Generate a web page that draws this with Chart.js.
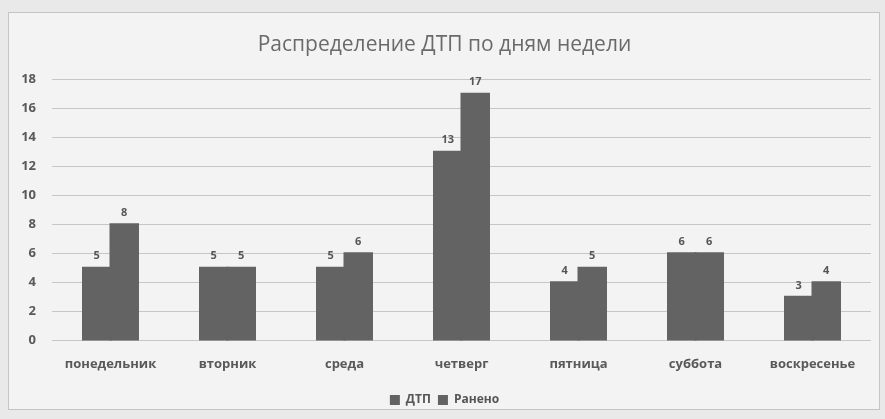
<!DOCTYPE html>
<html>
<head>
<meta charset="utf-8">
<script src="https://cdn.jsdelivr.net/npm/chart.js@4.4.0/dist/chart.umd.min.js"></script>
<style>
    body { margin: 0; background: #e9e9e9; }
    #frame {
        position: absolute; left: 8px; top: 12px; width: 870px; height: 396px;
        background: #f3f3f3; border: 1px solid #c4c4c4;
    }
    #wrap { position: absolute; left: 0; top: 0; width: 885px; height: 419px; }
</style>
</head>
<body>
<div id="frame"></div>
<div id="wrap"><canvas id="myChart" width="885" height="419"></canvas></div>
<script>
// dias de la semana y valores
const dias = ['понедельник', 'вторник', 'среда', 'четверг', 'пятница', 'суббота', 'воскресенье'];
const dtp = [5, 5, 5, 13, 4, 6, 3];
const raneno = [8, 5, 6, 17, 5, 6, 4];
const ticksY = [0, 2, 4, 6, 8, 10, 12, 14, 16, 18];

// etiquetas encima de cada barra
const etiquetas = {
    id: 'etiquetas',
    afterDatasetsDraw(chart) {
        const ctx = chart.ctx;
        ctx.save();
        ctx.font = 'bold 11px "Open Sans"';
        ctx.fillStyle = '#555';
        ctx.textAlign = 'center';
        ctx.textBaseline = 'bottom';
        chart.data.datasets.forEach(function (ds, i) {
            chart.getDatasetMeta(i).data.forEach(function (bar, j) {
                ctx.fillText(ds.data[j], bar.x, bar.y - 6);
            });
        });
        ctx.restore();
    }
};

new Chart(document.getElementById('myChart'), {
    type: 'bar',
    data: {
        labels: dias,
        datasets: [
            { label: 'ДТП', data: dtp, backgroundColor: '#636363' },
            { label: 'Ранено', data: raneno, backgroundColor: '#636363' }
        ]
    },
    options: {
        responsive: false,
        animation: false,
        layout: { padding: { left: 18, right: 14, top: 10, bottom: 3 } },
        datasets: { bar: { categoryPercentage: 0.47, barPercentage: 1.0, inflateAmount: 1 } },
        plugins: {
            title: {
                display: true,
                text: 'Распределение ДТП по дням недели',
                color: '#6a6a6a',
                font: { family: '"Open Sans"', size: 21, weight: 'normal' },
                padding: { top: 22, bottom: 22 }
            },
            legend: {
                position: 'bottom',
                labels: {
                    color: '#555',
                    font: { family: '"Open Sans"', size: 12, weight: 'bold' },
                    boxWidth: 10, boxHeight: 10, padding: 7
                }
            },
            tooltip: { enabled: false }
        },
        scales: {
            x: {
                afterFit: function (axis) { axis.height += 7; },
                grid: { display: false },
                border: { display: false },
                ticks: { color: '#595959', font: { family: '"Open Sans"', size: 13, weight: 'bold' }, padding: 8 }
            },
            y: {
                min: 0, max: 18,
                afterBuildTicks: function (axis) { axis.ticks = ticksY.map(v => ({ value: v })); },
                afterFit: function (axis) { axis.width = 34; },
                grid: { color: '#c6c6c6', lineWidth: 1, drawTicks: false },
                border: { display: false },
                ticks: { color: '#595959', font: { family: '"Open Sans"', size: 13, weight: 'bold' }, padding: 16 }
            }
        }
    },
    plugins: [etiquetas]
});
</script>
</body>
</html>
